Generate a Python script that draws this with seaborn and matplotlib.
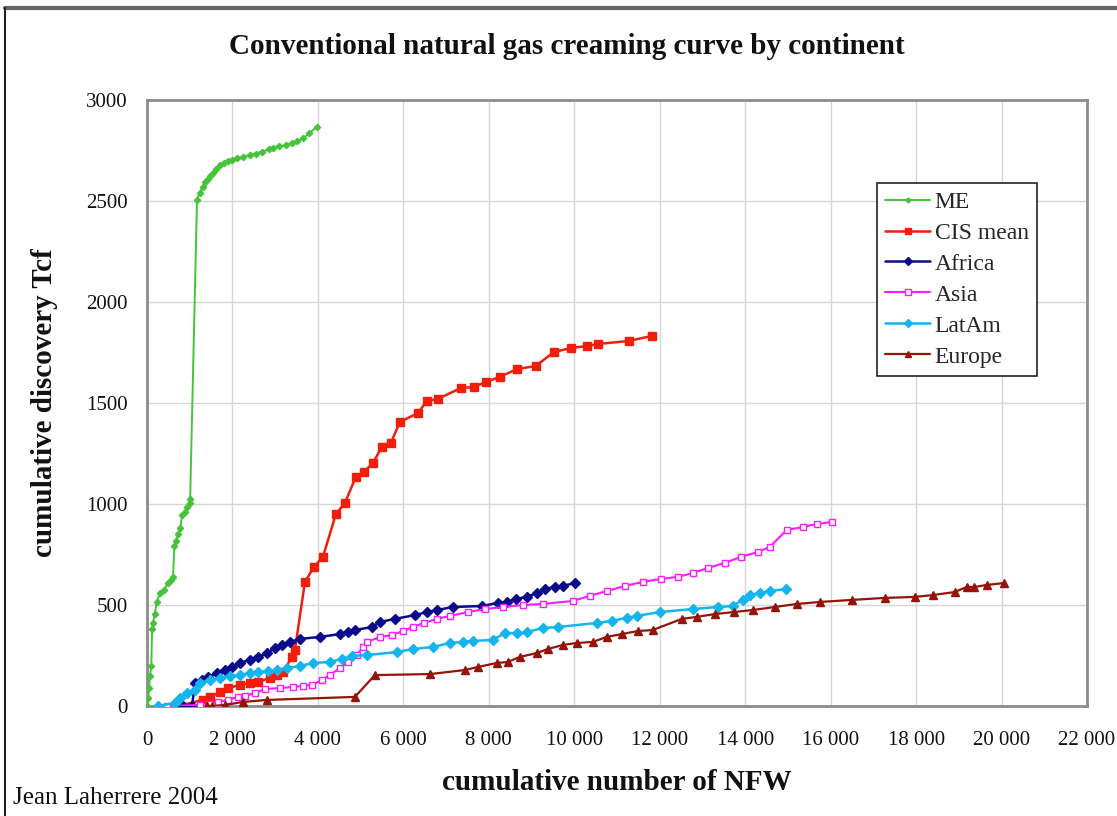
import matplotlib
matplotlib.use("Agg")
import matplotlib.pyplot as plt
from matplotlib.lines import Line2D
from matplotlib.ticker import FuncFormatter
import seaborn as sns
import pandas as pd

# ---------------- data ----------------
me_x = [0, 30, 50, 70, 100, 120, 140, 180, 230, 300, 400, 490, 560, 610, 640, 680, 720, 780,
        820, 880, 940, 1000, 1010, 1170, 1230, 1300, 1360, 1420, 1480, 1540, 1620, 1710, 1800,
        1900, 2000, 2110, 2250, 2400, 2550, 2700, 2850, 2950, 3100, 3250, 3400, 3520, 3650,
        3800, 3970]
me_y = [0, 40, 90, 150, 200, 380, 410, 455, 515, 560, 575, 610, 625, 640, 790, 815, 850, 880,
        945, 960, 985, 1005, 1025, 2505, 2540, 2570, 2594, 2610, 2625, 2640, 2660, 2678, 2688,
        2698, 2705, 2712, 2720, 2727, 2735, 2745, 2755, 2762, 2770, 2778, 2787, 2795, 2810,
        2835, 2868]

cis_x = [725, 1310, 1474, 1707, 1895, 2175, 2409, 2596, 2877, 3041, 3181, 3392, 3462, 3696,
         3906, 4117, 4421, 4631, 4888, 5076, 5286, 5497, 5707, 5918, 6339, 6549, 6806, 7344,
         7649, 7929, 8257, 8654, 9099, 9520, 9917, 10292, 10549, 11274, 11812]
cis_y = [0, 30, 45, 69, 89, 104, 114, 119, 139, 153, 168, 243, 277, 614, 688, 738, 950, 1005,
         1134, 1158, 1203, 1282, 1302, 1406, 1450, 1510, 1520, 1574, 1579, 1604, 1629, 1668,
         1683, 1752, 1772, 1782, 1792, 1807, 1832]

afr_x = [842, 1053, 1123, 1286, 1427, 1637, 1824, 1988, 2175, 2409, 2596, 2807, 2994, 3158,
         3345, 3579, 4047, 4514, 4701, 4865, 5263, 5450, 5801, 6269, 6549, 6783, 7157, 7836,
         8210, 8420, 8631, 8888, 9122, 9309, 9543, 9730, 10011]
afr_y = [0, 0, 114, 129, 144, 163, 178, 193, 213, 228, 243, 262, 287, 302, 317, 332, 342, 356,
         366, 376, 391, 416, 431, 450, 465, 475, 490, 495, 510, 515, 530, 540, 560, 579, 589,
         594, 609]

asia_x = [468, 1240, 1474, 1661, 1895, 2128, 2292, 2526, 2760, 3111, 3415, 3649, 3859, 4093,
          4280, 4514, 4701, 4912, 5052, 5146, 5450, 5731, 5988, 6222, 6479, 6783, 7087, 7508,
          7906, 8327, 8795, 9262, 9964, 10362, 10759, 11180, 11601, 12022, 12420, 12771, 13122,
          13520, 13894, 14291, 14572, 14970, 15344, 15672, 16023]
asia_y = [0, 5, 10, 20, 30, 45, 50, 64, 84, 89, 94, 99, 104, 129, 153, 188, 218, 252, 292, 317,
          342, 351, 371, 391, 411, 431, 446, 465, 480, 490, 500, 505, 520, 545, 569, 594, 614,
          629, 639, 658, 683, 708, 738, 762, 787, 871, 886, 901, 911]

lat_x = [257, 655, 772, 936, 1123, 1240, 1474, 1707, 1941, 2175, 2409, 2596, 2830, 3041, 3275,
         3579, 3883, 4280, 4561, 4795, 5146, 5848, 6222, 6690, 7087, 7391, 7625, 8093, 8374,
         8654, 8888, 9262, 9613, 10526, 10876, 11227, 11461, 11999, 12771, 13356, 13707, 13940,
         14104, 14338, 14572, 14946]
lat_y = [0, 15, 40, 64, 79, 114, 129, 139, 148, 153, 163, 168, 173, 178, 188, 198, 213, 218,
         233, 248, 252, 267, 282, 292, 312, 317, 322, 327, 361, 361, 366, 386, 391, 411, 421,
         436, 446, 465, 480, 490, 495, 525, 549, 559, 569, 579]

eur_x = [1403, 1520, 1824, 2245, 2807, 4865, 5333, 6619, 7438, 7742, 8187, 8444, 8725, 9122,
         9380, 9730, 10058, 10432, 10759, 11110, 11485, 11835, 12514, 12865, 13286, 13730,
         14174, 14689, 15203, 15742, 16490, 17262, 17964, 18385, 18900, 19180, 19367, 19648,
         20069]
eur_y = [0, 0, 5, 20, 30, 45, 153, 158, 178, 193, 213, 218, 243, 262, 282, 302, 312, 317, 342,
         356, 371, 376, 431, 441, 455, 465, 475, 490, 505, 515, 525, 535, 540, 549, 564, 589,
         589, 599, 609]

series_names = ["ME", "CIS mean", "Africa", "Asia", "LatAm", "Europe"]
series_x = [me_x, cis_x, afr_x, asia_x, lat_x, eur_x]
series_y = [me_y, cis_y, afr_y, asia_y, lat_y, eur_y]

x_ticks = list(range(0, 22001, 2000))
y_ticks = list(range(0, 3001, 500))

# ---------------- styles ----------------
styles = {
    "ME":       dict(color="#45c43a", marker="D", ms=3.2, mfc="#45c43a", mec="#45c43a", lw=1.4),
    "CIS mean": dict(color="#f01e0a", marker="s", ms=6.0, mfc="#f01e0a", mec="#f01e0a", lw=1.8),
    "Africa":   dict(color="#0a0a8c", marker="D", ms=5.0, mfc="#0a0a8c", mec="#0a0a8c", lw=1.8),
    "Asia":     dict(color="#ff1aff", marker="s", ms=5.0, mfc="white", mec="#ff1aff", lw=1.5),
    "LatAm":    dict(color="#14b4ec", marker="D", ms=5.0, mfc="#14b4ec", mec="#14b4ec", lw=1.8),
    "Europe":   dict(color="#94140a", marker="^", ms=6.2, mfc="#94140a", mec="#94140a", lw=1.6),
}

sns.set_theme(style="white")
plt.rcParams["font.family"] = ["Liberation Serif", "DejaVu Serif"]

fig = plt.figure(figsize=(11.17, 8.16), dpi=100)
ax = fig.add_axes([147 / 1117, 1 - 706 / 816, (1087 - 147) / 1117, (706 - 100) / 816])

for name, xs, ys in zip(series_names, series_x, series_y):
    df = pd.DataFrame({"x": xs, "y": ys})
    st = styles[name]
    sns.lineplot(data=df, x="x", y="y", ax=ax, sort=False, estimator=None,
                 color=st["color"], marker=st["marker"], markersize=st["ms"],
                 markerfacecolor=st["mfc"], markeredgecolor=st["mec"], markeredgewidth=1.0,
                 linewidth=st["lw"], zorder=3)

ax.set_xlim(0, 22000)
ax.set_ylim(0, 3000)
ax.set_xticks(x_ticks)
ax.set_yticks(y_ticks)
ax.xaxis.set_major_formatter(FuncFormatter(lambda v, p: f"{int(v):,}".replace(",", " ")))
ax.yaxis.set_major_formatter(FuncFormatter(lambda v, p: f"{int(v)}"))
ax.tick_params(axis="x", length=0, pad=18, labelsize=15, colors="#111111")
ax.tick_params(axis="y", length=0, pad=14, labelsize=15, colors="#111111")
ax.grid(True, color="#d6d6d6", linewidth=1.0, zorder=0)
ax.set_axisbelow(True)
for sp in ax.spines.values():
    sp.set_color("#8c8c8c")
    sp.set_linewidth(2)
    sp.set_visible(True)

ax.set_xlabel("cumulative number of NFW", fontsize=21, fontweight="bold", labelpad=14,
              color="#111111")
ax.set_ylabel("cumulative discovery Tcf", fontsize=21, fontweight="bold", labelpad=20,
              color="#111111")
fig.text(567 / 1117, 1 - 47 / 816, "Conventional natural gas creaming curve by continent",
         ha="center", va="center", fontsize=21, fontweight="bold", color="#111111")
fig.text(13 / 1117, 1 - 798 / 816, "Jean Laherrere 2004", ha="left", va="center",
         fontsize=18, color="#111111")

handles = []
for name in series_names:
    st = styles[name]
    handles.append(Line2D([0], [0], color=st["color"], marker=st["marker"],
                          markersize=st["ms"] * 0.8, markerfacecolor=st["mfc"],
                          markeredgecolor=st["mec"], linewidth=st["lw"]))
leg = ax.legend(handles, series_names, loc="upper right",
                bbox_to_anchor=((1037 - 147) / 940, (706 - 183) / 606),
                fontsize=17, frameon=True, fancybox=False, edgecolor="#222222",
                framealpha=1, handlelength=1.9, labelspacing=0.4, borderpad=0.35,
                handletextpad=0.2, borderaxespad=0)
leg.get_frame().set_linewidth(1.2)

# outer border of the figure
fig.add_artist(Line2D([5 / 1117, 1], [1 - 8 / 816, 1 - 8 / 816], transform=fig.transFigure,
                      color="#666666", linewidth=3))
fig.add_artist(Line2D([5 / 1117, 5 / 1117], [0, 1 - 8 / 816], transform=fig.transFigure,
                      color="#222222", linewidth=1.5))

fig.savefig("out.png", dpi=100, facecolor="white")
